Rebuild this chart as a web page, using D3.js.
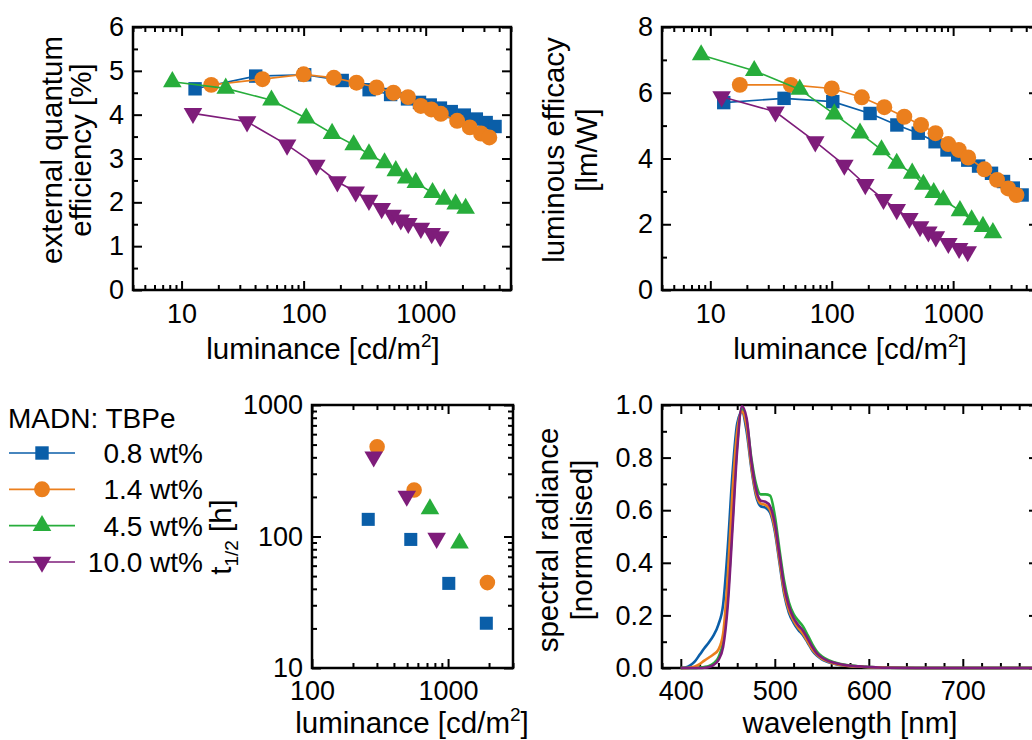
<!DOCTYPE html>
<html>
<head>
<meta charset="utf-8">
<script src="https://cdn.jsdelivr.net/npm/d3@7"></script>
<style>
  body { margin: 0; background: #fff; }
  text { font-family: "Liberation Sans", Arial, sans-serif; fill: #000; }
</style>
</head>
<body>
<script>
// ---- data ----
var seriesNames = ["0.8 wt%", "1.4 wt%", "4.5 wt%", "10.0 wt%"];
var seriesColors = ["#0a5ea8", "#eb7f1d", "#27ad3b", "#7e1c7a"];
var seriesShapes = ["square", "circle", "up", "down"];

// luminance [cd/m2] of each measured point
var lum08 = [12.9, 40.5, 102, 207, 344, 516, 710, 890, 1090, 1320, 1620, 2070, 2600, 3130, 3700];
var lum14 = [17.5, 46, 100, 177, 271, 396, 544, 716, 912, 1113, 1330, 1810, 2300, 2840, 3320];
var lum45 = [8.4, 23, 54.5, 105, 171, 257, 343, 460, 569, 692, 830, 1138, 1420, 1760, 2125];
var lum100 = [12.4, 34.4, 73.2, 127, 189, 267, 343, 436, 534, 625, 720, 913, 1120, 1318];

// external quantum efficiency [%]
var eqe08 = [4.59, 4.88, 4.91, 4.78, 4.57, 4.46, 4.36, 4.28, 4.22, 4.15, 4.07, 3.99, 3.90, 3.82, 3.73];
var eqe14 = [4.68, 4.81, 4.92, 4.84, 4.73, 4.62, 4.50, 4.40, 4.20, 4.12, 4.02, 3.86, 3.71, 3.57, 3.48];
var eqe45 = [4.75, 4.60, 4.33, 3.92, 3.57, 3.31, 3.10, 2.90, 2.72, 2.55, 2.45, 2.22, 2.07, 1.96, 1.86];
var eqe100 = [4.03, 3.84, 3.31, 2.85, 2.47, 2.24, 2.05, 1.86, 1.71, 1.60, 1.52, 1.41, 1.29, 1.22];

// luminous efficacy [lm/W]
var le08 = [5.70, 5.83, 5.73, 5.37, 5.02, 4.77, 4.51, 4.26, 4.11, 3.95, 3.77, 3.55, 3.30, 3.10, 2.89];
var le14 = [6.24, 6.24, 6.13, 5.86, 5.56, 5.27, 5.02, 4.77, 4.44, 4.26, 4.03, 3.67, 3.35, 3.09, 2.89];
var le45 = [7.15, 6.67, 6.10, 5.35, 4.77, 4.26, 3.85, 3.55, 3.21, 2.96, 2.74, 2.41, 2.13, 1.93, 1.74];
var le100 = [5.88, 5.42, 4.51, 3.80, 3.21, 2.76, 2.45, 2.18, 1.93, 1.77, 1.62, 1.42, 1.27, 1.17];

// lifetime t1/2 [h] against initial luminance
var lifeLum08 = [259, 532, 1012, 1910];
var life08 = [135, 95, 44, 21.9];
var lifeLum14 = [301, 563, 1945];
var life14 = [482, 226, 44.6];
var lifeLum45 = [736, 1213];
var life45 = [162, 89];
var lifeLum100 = [284, 497, 824];
var life100 = [404, 203, 97];

// normalised spectra
var wavelength = [400, 405, 410, 415, 420, 425, 430, 435, 440, 445, 450, 455, 460, 465, 470, 475, 480, 485, 490, 495,
                  500, 505, 510, 515, 520, 525, 530, 535, 540, 545, 550, 555, 560, 565, 570, 575, 580, 585, 590, 595,
                  600, 610, 620, 650, 700, 780];
var spec08 = [0, 0.002, 0.01, 0.025, 0.05, 0.075, 0.098, 0.125, 0.165, 0.24, 0.46, 0.74, 0.93, 0.975, 0.9, 0.76, 0.655, 0.615, 0.61, 0.59,
              0.52, 0.40, 0.28, 0.21, 0.172, 0.145, 0.125, 0.096, 0.066, 0.046, 0.033, 0.025, 0.019, 0.014, 0.011, 0.009, 0.007, 0.006, 0.005, 0.004,
              0.003, 0.002, 0.001, 0, 0, 0];
var spec14 = [0, 0, 0.002, 0.006, 0.015, 0.028, 0.04, 0.052, 0.07, 0.13, 0.35, 0.67, 0.9, 0.975, 0.92, 0.77, 0.665, 0.625, 0.62, 0.60,
              0.53, 0.41, 0.29, 0.22, 0.18, 0.152, 0.13, 0.10, 0.07, 0.05, 0.036, 0.027, 0.02, 0.015, 0.012, 0.009, 0.007, 0.006, 0.005, 0.004,
              0.003, 0.002, 0.001, 0, 0, 0];
var spec45 = [0, 0, 0, 0, 0.002, 0.004, 0.008, 0.018, 0.04, 0.10, 0.27, 0.56, 0.85, 0.985, 0.94, 0.80, 0.70, 0.66, 0.66, 0.655,
              0.58, 0.45, 0.33, 0.25, 0.205, 0.18, 0.158, 0.125, 0.09, 0.062, 0.045, 0.034, 0.026, 0.02, 0.015, 0.012, 0.01, 0.008, 0.006, 0.005,
              0.004, 0.002, 0.001, 0, 0, 0];
var spec100 = [0, 0, 0, 0, 0, 0.001, 0.004, 0.012, 0.03, 0.08, 0.24, 0.53, 0.83, 0.995, 0.95, 0.79, 0.68, 0.636, 0.632, 0.615,
               0.55, 0.43, 0.31, 0.235, 0.19, 0.163, 0.142, 0.112, 0.08, 0.055, 0.04, 0.03, 0.023, 0.018, 0.014, 0.011, 0.009, 0.007, 0.006, 0.005,
               0.004, 0.002, 0.001, 0, 0, 0];

var lumSets = [lum08, lum14, lum45, lum100];
var eqeSets = [eqe08, eqe14, eqe45, eqe100];
var leSets = [le08, le14, le45, le100];
var lifeLumSets = [lifeLum08, lifeLum14, lifeLum45, lifeLum100];
var lifeSets = [life08, life14, life45, life100];
var specSets = [spec08, spec45, spec14, spec100];
var specColors = [seriesColors[0], seriesColors[2], seriesColors[1], seriesColors[3]];

// ---- helpers ----
var tickFont = 27, titleFont = 29.5;

function zip(a, b) { return a.map(function(v, i){ return [v, b[i]]; }); }

function logTicks(lo, hi) {
	var major = [], minor = [];
	for (var e = Math.floor(Math.log10(lo)); e <= Math.ceil(Math.log10(hi)); e++) {
		for (var k = 1; k < 10; k++) {
			var v = k * Math.pow(10, e);
			if (v < lo * 0.999 || v > hi * 1.001) continue;
			if (k === 1) major.push(v); else minor.push(v);
		}
	}
	return {major: major, minor: minor};
}

function linTicks(lo, hi, step) {
	var n = Math.round((hi - lo) / step);
	return d3.range(n + 1).map(function(i){ return +(lo + i * step).toFixed(6); });
}

function markerSize(shape) {
	return shape === "circle" ? 200 : shape === "square" ? 180 : 150;
}

function markerPath(shape, size) {
	var t = shape === "square" ? d3.symbolSquare : shape === "circle" ? d3.symbolCircle : d3.symbolTriangle;
	return d3.symbol().type(t).size(size)();
}

function drawMarkers(g, pts, shape, color, size) {
	g.selectAll(null)
	 .data(pts)
	 .enter()
	 .append("path")
	 .attr("d", markerPath(shape, size))
	 .attr("fill", color)
	 .attr("transform", function(d){
		 return "translate(" + d[0] + "," + d[1] + ")" + (shape === "down" ? " rotate(180)" : "");
	 });
}

function styleAxis(sel) {
	sel.select(".domain").remove();
	sel.selectAll("line").attr("stroke", "#000").attr("stroke-width", 2);
	sel.selectAll("text").attr("font-size", tickFont).attr("font-family", "Liberation Sans, Arial, sans-serif").attr("fill", "#000");
	sel.attr("font-size", tickFont);
}

function drawFrame(g, x, y, xt, yt, xFmt, yFmt, xPad) {
	var x0 = x.range()[0], x1 = x.range()[1];
	var y0 = y.range()[0], y1 = y.range()[1];
	var axes = [
		[d3.axisBottom(x), y0, true, xt, xFmt],
		[d3.axisTop(x), y1, true, xt, function(){ return ""; }],
		[d3.axisLeft(y), x0, false, yt, yFmt],
		[d3.axisRight(y), x1, false, yt, function(){ return ""; }]
	];
	axes.forEach(function(a){
		var pos = a[2] ? "translate(0," + a[1] + ")" : "translate(" + a[1] + ",0)";
		g.append("g").attr("transform", pos)
		 .call(a[0].tickValues(a[3].minor).tickSize(-5).tickFormat(""))
		 .call(styleAxis);
		g.append("g").attr("transform", pos)
		 .call(a[0].tickValues(a[3].major).tickSize(-9).tickPadding(a[2] ? xPad : 9).tickFormat(a[4]))
		 .call(styleAxis);
	});
	g.append("rect")
	 .attr("x", x0).attr("y", y1)
	 .attr("width", x1 - x0).attr("height", y0 - y1)
	 .attr("fill", "none").attr("stroke", "#000").attr("stroke-width", 2.5);
}

function lumTitle(g, cx, y) {
	var t = g.append("text").attr("x", cx).attr("y", y)
	         .attr("text-anchor", "middle").attr("font-size", titleFont);
	t.append("tspan").text("luminance [cd/m");
	t.append("tspan").attr("font-size", 19).attr("dy", -12).text("2");
	t.append("tspan").attr("dy", 12).text("]");
}

function vTitle(g, lines, xs, cy) {
	lines.forEach(function(s, i){
		g.append("text")
		 .attr("transform", "translate(" + xs[i] + "," + cy + ") rotate(-90)")
		 .attr("text-anchor", "middle")
		 .attr("font-size", titleFont)
		 .text(s);
	});
}

// ---- svg ----
var svg = d3.select("body")
            .append("svg")
            .attr("width", 1032)
            .attr("height", 740);

var fmtInt = function(d){ return String(d); };

// ---- panel 1: external quantum efficiency ----
var g1 = svg.append("g");
var x1 = d3.scaleLog().domain([4, 5000]).range([133, 511]);
var y1 = d3.scaleLinear().domain([0, 6]).range([290, 27]);
var lumTicks = logTicks(4, 5000);
drawFrame(g1, x1, y1, lumTicks,
          {major: linTicks(0, 6, 1), minor: linTicks(0.5, 5.5, 1)}, fmtInt, fmtInt, 14);

var line1 = d3.line().x(function(d){ return x1(d[0]); }).y(function(d){ return y1(d[1]); });
seriesNames.forEach(function(n, i){
	var pts = zip(lumSets[i], eqeSets[i]);
	g1.append("path").attr("d", line1(pts)).attr("fill", "none")
	  .attr("stroke", seriesColors[i]).attr("stroke-width", 1.6);
	drawMarkers(g1, pts.map(function(p){ return [x1(p[0]), y1(p[1])]; }),
	            seriesShapes[i], seriesColors[i], markerSize(seriesShapes[i]));
});
lumTitle(g1, 323, 359);
vTitle(g1, ["external quantum", "efficiency [%]"], [62, 91], 150);

// ---- panel 2: luminous efficacy ----
var g2 = svg.append("g");
var x2 = d3.scaleLog().domain([4, 5000]).range([662, 1038]);
var y2 = d3.scaleLinear().domain([0, 8]).range([290, 27]);
drawFrame(g2, x2, y2, lumTicks,
          {major: linTicks(0, 8, 2), minor: linTicks(1, 7, 2)}, fmtInt, fmtInt, 14);

var line2 = d3.line().x(function(d){ return x2(d[0]); }).y(function(d){ return y2(d[1]); });
seriesNames.forEach(function(n, i){
	var pts = zip(lumSets[i], leSets[i]);
	g2.append("path").attr("d", line2(pts)).attr("fill", "none")
	  .attr("stroke", seriesColors[i]).attr("stroke-width", 1.6);
	drawMarkers(g2, pts.map(function(p){ return [x2(p[0]), y2(p[1])]; }),
	            seriesShapes[i], seriesColors[i], markerSize(seriesShapes[i]));
});
lumTitle(g2, 850, 359);
vTitle(g2, ["luminous efficacy", "[lm/W]"], [564, 597], 150);

// ---- legend ----
var lg = svg.append("g");
lg.append("text").attr("x", 8).attr("y", 428).attr("font-size", 28).text("MADN: TBPe");
var legendY = d3.scalePoint().domain(seriesNames).range([453, 562]);
seriesNames.forEach(function(n, i){
	var yy = legendY(n);
	lg.append("line").attr("x1", 9).attr("x2", 75).attr("y1", yy).attr("y2", yy)
	  .attr("stroke", seriesColors[i]).attr("stroke-width", 1.6);
	drawMarkers(lg, [[42, yy]], seriesShapes[i], seriesColors[i], markerSize(seriesShapes[i]));
	lg.append("text").attr("x", 203).attr("y", yy + 10).attr("text-anchor", "end")
	  .attr("font-size", 28).text(n);
});

// ---- panel 3: lifetime ----
var g3 = svg.append("g");
var x3 = d3.scaleLog().domain([100, 3000]).range([312, 513]);
var y3 = d3.scaleLog().domain([10, 1000]).range([668, 405]);
drawFrame(g3, x3, y3, logTicks(100, 3000), logTicks(10, 1000), fmtInt, fmtInt, 13);
seriesNames.forEach(function(n, i){
	var pts = zip(lifeLumSets[i], lifeSets[i]).map(function(p){ return [x3(p[0]), y3(p[1])]; });
	drawMarkers(g3, pts, seriesShapes[i], seriesColors[i], seriesShapes[i] === "circle" ? 190 : seriesShapes[i] === "square" ? 170 : 150);
});
lumTitle(g3, 412, 733);
var tt = g3.append("text")
           .attr("transform", "translate(231,537) rotate(-90)")
           .attr("text-anchor", "middle")
           .attr("font-size", titleFont);
tt.append("tspan").text("t");
tt.append("tspan").attr("font-size", 19).attr("dy", 7).text("1/2");
tt.append("tspan").attr("dy", -7).text(" [h]");

// ---- panel 4: spectra ----
var g4 = svg.append("g");
var x4 = d3.scaleLinear().domain([380, 780]).range([662, 1038]);
var y4 = d3.scaleLinear().domain([0, 1]).range([668, 405]);
var xt4 = linTicks(380, 780, 20);
drawFrame(g4, x4, y4,
          {major: [400, 500, 600, 700], minor: xt4.filter(function(v){ return v % 100 !== 0; })},
          {major: linTicks(0, 1, 0.2), minor: linTicks(0.1, 0.9, 0.2)},
          fmtInt, d3.format(".1f"), 13);
var line4 = d3.line().curve(d3.curveMonotoneX)
              .x(function(d){ return x4(d[0]); }).y(function(d){ return y4(d[1]); });
specSets.forEach(function(s, i){
	g4.append("path").attr("d", line4(zip(wavelength, s))).attr("fill", "none")
	  .attr("stroke", specColors[i]).attr("stroke-width", 2.6);
});
g4.append("text").attr("x", 850).attr("y", 733).attr("text-anchor", "middle")
  .attr("font-size", titleFont).text("wavelength [nm]");
vTitle(g4, ["spectral radiance", "[normalised]"], [558, 592], 540);
</script>
</body>
</html>
